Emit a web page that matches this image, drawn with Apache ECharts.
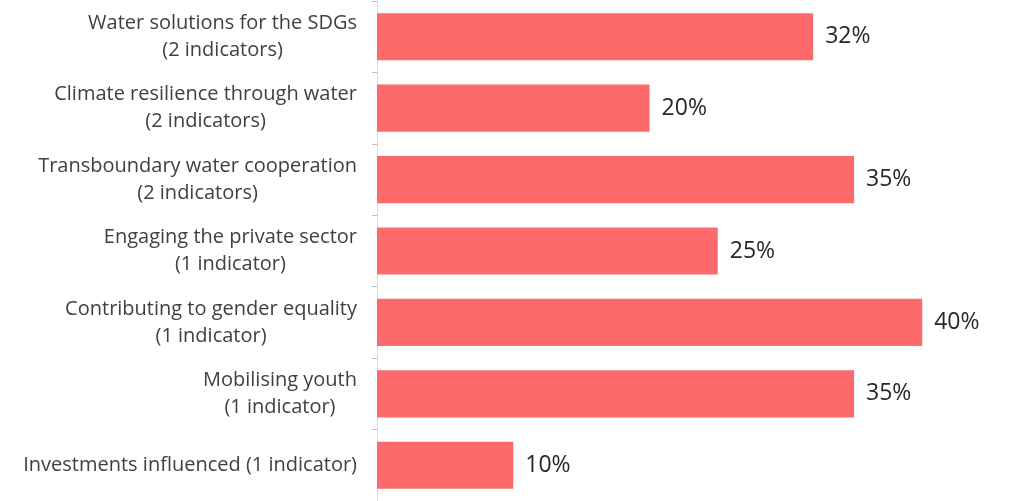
<!DOCTYPE html>
<html><head><meta charset="utf-8">
<script src="https://cdn.jsdelivr.net/npm/echarts@6/dist/echarts.min.js"></script>
<style>html,body{margin:0;padding:0;background:#fff}#c{width:1010px;height:501px}</style>
</head><body><div id="c"></div>
<script>
const categories = [
  "Water solutions for the SDGs\n(2 indicators)",
  "Climate resilience through water\n(2 indicators)",
  "Transboundary water cooperation\n(2 indicators)",
  "Engaging the private sector\n(1 indicator)",
  "Contributing to gender equality\n(1 indicator)",
  "Mobilising youth\n(1 indicator)",
  "Investments influenced (1 indicator)"
];
const values = [32, 20, 35, 25, 40, 35, 10];

const chart = echarts.init(document.getElementById('c'));
chart.setOption({
  animation: false,
  grid: { left: 377, top: 1, bottom: 0, right: 0 },
  xAxis: { type: 'value', min: 0, max: 46.44, show: false },
  yAxis: {
    type: 'category', inverse: true, data: categories,
    axisLine: { show: true, lineStyle: { color: '#d9d9d9', width: 1 } },
    axisTick: { show: true, length: 5, lineStyle: { color: '#bfbfbf' } },
    axisLabel: {
      margin: 20, color: '#404040', fontFamily: 'Open Sans', fontSize: 20, lineHeight: 27,
      formatter: v => v.split('\n').map(l => '{c|' + l + '}').join('\n'),
      rich: { c: { align: 'center', color: '#404040', fontFamily: 'Open Sans', fontSize: 20, lineHeight: 27 } }
    }
  },
  series: [{
    type: 'bar', data: values, barCategoryGap: '34%',
    itemStyle: { color: '#fc6a6b' },
    label: { show: true, position: 'right', distance: 12, formatter: '{c}%',
      color: '#262626', fontFamily: 'Open Sans', fontSize: 23 }
  }]
});
</script></body></html>
